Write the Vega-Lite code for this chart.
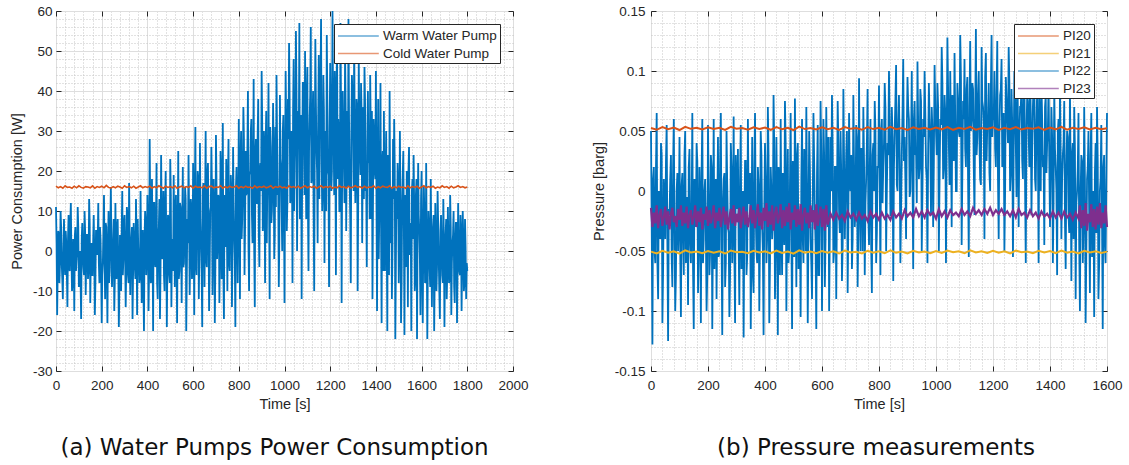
{
"$schema":"https://vega.github.io/schema/vega-lite/v6.json",
"background":"white",
"padding":{"left":8,"top":3,"right":0,"bottom":0},
"autosize":{"type":"pad"},
"spacing":138,
"bounds":"flush",
"config":{
 "view":{"stroke":"#262626","strokeWidth":1},
 "font":"Liberation Sans",
 "axis":{"labelFont":"Liberation Sans","labelFontSize":13.5,"labelColor":"#262626","titleFont":"Liberation Sans","titleFontSize":14.5,"titleColor":"#262626","titleFontWeight":"normal","tickColor":"#262626","domain":false,"labelFlush":false,"labelOverlap":false},
 "legend":{"labelFont":"Liberation Sans","labelFontSize":13.5,"labelColor":"#262626"}
},
"datasets":{
"warm":[{"t":0,"v":11},{"t":2.5,"v":2},{"t":5,"v":-16},{"t":7.5,"v":-5},{"t":10,"v":5},{"t":12.5,"v":4},{"t":15,"v":-8},{"t":17.5,"v":-3},{"t":20,"v":10},{"t":22.5,"v":6},{"t":25,"v":-3},{"t":27.5,"v":-7},{"t":30,"v":-12},{"t":32.5,"v":1},{"t":35,"v":8},{"t":37.5,"v":-2},{"t":40,"v":-6},{"t":42.5,"v":5},{"t":45,"v":2},{"t":47.5,"v":-6},
{"t":50,"v":-14},{"t":52.5,"v":3},{"t":55,"v":9},{"t":57.5,"v":-4},{"t":60,"v":-5},{"t":62.5,"v":7},{"t":65,"v":12},{"t":67.5,"v":-1},{"t":70,"v":-10},{"t":72.5,"v":-8},{"t":75,"v":3},{"t":77.5,"v":2},{"t":80,"v":-15},{"t":82.5,"v":4},{"t":85,"v":6},{"t":87.5,"v":-5},{"t":90,"v":-2},{"t":92.5,"v":0},{"t":95,"v":11},{"t":97.5,"v":6},
{"t":100,"v":-9},{"t":102.5,"v":-3},{"t":105,"v":0},{"t":107.5,"v":-7},{"t":110,"v":-17},{"t":112.5,"v":3},{"t":115,"v":7},{"t":117.5,"v":1},{"t":120,"v":-4},{"t":122.5,"v":-6},{"t":125,"v":10},{"t":127.5,"v":5},{"t":130,"v":-11},{"t":132.5,"v":-2},{"t":135,"v":4},{"t":137.5,"v":4},{"t":140,"v":-7},{"t":142.5,"v":-4},{"t":145,"v":13},{"t":147.5,"v":7},
{"t":150,"v":-13},{"t":152.5,"v":-1},{"t":155,"v":2},{"t":157.5,"v":-6},{"t":160,"v":-6},{"t":162.5,"v":2},{"t":165,"v":9},{"t":167.5,"v":0},{"t":170,"v":-16},{"t":172.5,"v":-8},{"t":175,"v":5},{"t":177.5,"v":5},{"t":180,"v":-1},{"t":182.5,"v":3},{"t":185,"v":12},{"t":187.5,"v":-3},{"t":190,"v":-8},{"t":192.5,"v":6},{"t":195,"v":3},{"t":197.5,"v":-5},
{"t":200,"v":-18},
{"t":202.5,"v":-6},{"t":205,"v":-3},{"t":207.5,"v":4},{"t":210,"v":14},{"t":212.5,"v":-2},{"t":215,"v":-12},{"t":217.5,"v":7},{"t":220,"v":6},{"t":222.5,"v":-5},{"t":225,"v":-18},{"t":227.5,"v":1},{"t":230,"v":10},{"t":232.5,"v":-8},{"t":235,"v":-5},{"t":237.5,"v":5},{"t":240,"v":16},{"t":242.5,"v":3},{"t":245,"v":-9},{"t":247.5,"v":-4},{"t":250,"v":2},
{"t":252.5,"v":8},{"t":255,"v":-15},{"t":257.5,"v":-7},{"t":260,"v":12},{"t":262.5,"v":0},{"t":265,"v":-7},{"t":267.5,"v":6},{"t":270,"v":8},{"t":272.5,"v":-3},{"t":275,"v":-19},{"t":277.5,"v":-9},{"t":280,"v":4},{"t":282.5,"v":2},{"t":285,"v":-10},{"t":287.5,"v":5},{"t":290,"v":15},{"t":292.5,"v":-6},{"t":295,"v":-2},{"t":297.5,"v":7},{"t":300,"v":9},
{"t":302.5,"v":-1},{"t":305,"v":-14},{"t":307.5,"v":-4},{"t":310,"v":11},{"t":312.5,"v":9},{"t":315,"v":-6},{"t":317.5,"v":-8},{"t":320,"v":17},{"t":322.5,"v":3},{"t":325,"v":-11},{"t":327.5,"v":0},{"t":330,"v":3},{"t":332.5,"v":6},{"t":335,"v":-17},{"t":337.5,"v":-5},{"t":340,"v":7},{"t":342.5,"v":2},{"t":345,"v":-4},{"t":347.5,"v":-7},{"t":350,"v":13},
{"t":352.5,"v":4},{"t":355,"v":-16},{"t":357.5,"v":8},{"t":360,"v":1},{"t":362.5,"v":-3},{"t":365,"v":-8},{"t":367.5,"v":-6},{"t":370,"v":15},{"t":372.5,"v":1},{"t":375,"v":-13},{"t":377.5,"v":5},{"t":380,"v":5},{"t":382.5,"v":-9},{"t":385,"v":-20},{"t":387.5,"v":3},{"t":390,"v":10},{"t":392.5,"v":7},{"t":395,"v":-6},{"t":397.5,"v":-2},{"t":400,"v":14},
{"t":402.5,"v":6},{"t":405,"v":-15},{"t":407.5,"v":-4},{"t":410,"v":28},{"t":412.5,"v":10},{"t":415,"v":-8},{"t":417.5,"v":-7},{"t":420,"v":18},{"t":422.5,"v":2},{"t":425,"v":-20},{"t":427.5,"v":12},{"t":430,"v":12},{"t":432.5,"v":-2},{"t":435,"v":-4},{"t":437.5,"v":7},{"t":440,"v":22},{"t":442.5,"v":-8},{"t":445,"v":-12},{"t":447.5,"v":4},{"t":450,"v":6},
{"t":452.5,"v":13},{"t":455,"v":-17},{"t":457.5,"v":-5},{"t":460,"v":24},{"t":462.5,"v":9},{"t":465,"v":-2},{"t":467.5,"v":0},{"t":470,"v":15},{"t":472.5,"v":-6},{"t":475,"v":-10},{"t":477.5,"v":11},{"t":480,"v":20},{"t":482.5,"v":3},{"t":485,"v":-19},{"t":487.5,"v":-3},{"t":490,"v":9},{"t":492.5,"v":8},{"t":495,"v":-6},{"t":497.5,"v":-8},{"t":500,"v":23},
{"t":502.5,"v":14},{"t":505,"v":-14},{"t":507.5,"v":1},{"t":510,"v":3},{"t":512.5,"v":-5},{"t":515,"v":19},{"t":517.5,"v":6},{"t":520,"v":-9},{"t":522.5,"v":10},{"t":525,"v":14},{"t":527.5,"v":-2},{"t":530,"v":-18},{"t":532.5,"v":4},{"t":535,"v":25},{"t":537.5,"v":-7},{"t":540,"v":-5},{"t":542.5,"v":12},{"t":545,"v":11},{"t":547.5,"v":0},{"t":550,"v":-13},
{"t":552.5,"v":8},{"t":555,"v":21},{"t":557.5,"v":-4},{"t":560,"v":-3},{"t":562.5,"v":5},{"t":565,"v":16},{"t":567.5,"v":13},{"t":570,"v":-20},{"t":572.5,"v":-6},{"t":575,"v":8},{"t":577.5,"v":2},{"t":580,"v":24},{"t":582.5,"v":9},{"t":585,"v":-11},{"t":587.5,"v":-1},{"t":590,"v":13},{"t":592.5,"v":11},{"t":595,"v":-7},{"t":597.5,"v":-5},{"t":600,"v":22},
{"t":602.5,"v":4},{"t":605,"v":-16},{"t":607.5,"v":14},{"t":610,"v":31},{"t":612.5,"v":-3},{"t":615,"v":-6},{"t":617.5,"v":10},{"t":620,"v":20},{"t":622.5,"v":18},{"t":625,"v":-12},{"t":627.5,"v":0},{"t":630,"v":27},{"t":632.5,"v":8},{"t":635,"v":2},{"t":637.5,"v":-6},{"t":640,"v":-19},{"t":642.5,"v":15},{"t":645,"v":17},{"t":647.5,"v":5},{"t":650,"v":-9},
{"t":652.5,"v":12},{"t":655,"v":30},{"t":657.5,"v":-2},{"t":660,"v":-4},{"t":662.5,"v":19},{"t":665,"v":22},{"t":667.5,"v":6},{"t":670,"v":-15},{"t":672.5,"v":-5},{"t":675,"v":10},{"t":677.5,"v":11},{"t":680,"v":26},{"t":682.5,"v":16},{"t":685,"v":-11},{"t":687.5,"v":2},{"t":690,"v":18},{"t":692.5,"v":9},{"t":695,"v":-18},{"t":697.5,"v":-4},{"t":700,"v":29},
{"t":702.5,"v":17},{"t":705,"v":-2},{"t":707.5,"v":3},{"t":710,"v":14},{"t":712.5,"v":13},{"t":715,"v":-13},{"t":717.5,"v":-1},{"t":720,"v":25},{"t":722.5,"v":20},{"t":725,"v":-7},{"t":727.5,"v":7},{"t":730,"v":32},{"t":732.5,"v":-6},{"t":735,"v":-17},{"t":737.5,"v":14},{"t":740,"v":12},{"t":742.5,"v":1},{"t":745,"v":23},{"t":747.5,"v":10},{"t":750,"v":-10},
{"t":752.5,"v":18},{"t":755,"v":28},{"t":757.5,"v":-3},{"t":760,"v":-5},{"t":762.5,"v":8},{"t":765,"v":19},{"t":767.5,"v":15},{"t":770,"v":-14},{"t":772.5,"v":0},{"t":775,"v":26},{"t":777.5,"v":12},{"t":780,"v":4},{"t":782.5,"v":-2},{"t":785,"v":-19},{"t":787.5,"v":16},{"t":790,"v":21},{"t":792.5,"v":5},{"t":795,"v":-8},{"t":797.5,"v":11},{"t":800,"v":33},
{"t":802.5,"v":10},{"t":805,"v":-12},{"t":807.5,"v":22},{"t":810,"v":30},{"t":812.5,"v":3},{"t":815,"v":8},{"t":817.5,"v":18},{"t":820,"v":36},{"t":822.5,"v":28},{"t":825,"v":-6},{"t":827.5,"v":6},{"t":830,"v":25},{"t":832.5,"v":14},{"t":835,"v":15},{"t":837.5,"v":25},{"t":840,"v":40},{"t":842.5,"v":1},{"t":845,"v":-10},{"t":847.5,"v":19},{"t":850,"v":20},
{"t":852.5,"v":30},{"t":855,"v":33},{"t":857.5,"v":9},{"t":860,"v":2},{"t":862.5,"v":16},{"t":865,"v":43},{"t":867.5,"v":0},{"t":870,"v":-14},{"t":872.5,"v":24},{"t":875,"v":28},{"t":877.5,"v":12},{"t":880,"v":12},{"t":882.5,"v":29},{"t":885,"v":38},{"t":887.5,"v":5},{"t":890,"v":-4},{"t":892.5,"v":20},{"t":895,"v":22},{"t":897.5,"v":15},{"t":900,"v":45},
{"t":902.5,"v":32},{"t":905,"v":5},{"t":907.5,"v":8},{"t":910,"v":30},{"t":912.5,"v":17},{"t":915,"v":-8},{"t":917.5,"v":26},{"t":920,"v":35},{"t":922.5,"v":2},{"t":925,"v":18},{"t":927.5,"v":21},{"t":930,"v":42},{"t":932.5,"v":13},{"t":935,"v":-12},{"t":937.5,"v":31},{"t":940,"v":26},{"t":942.5,"v":7},{"t":945,"v":10},{"t":947.5,"v":18},{"t":950,"v":37},
{"t":952.5,"v":25},{"t":955,"v":-2},{"t":957.5,"v":4},{"t":960,"v":31},{"t":962.5,"v":11},{"t":965,"v":44},{"t":967.5,"v":28},{"t":970,"v":14},{"t":972.5,"v":16},{"t":975,"v":-9},{"t":977.5,"v":3},{"t":980,"v":39},{"t":982.5,"v":23},{"t":985,"v":21},{"t":987.5,"v":10},{"t":990,"v":0},{"t":992.5,"v":30},{"t":995,"v":34},{"t":997.5,"v":14},{"t":1000,"v":-13},
{"t":1002.5,"v":20},{"t":1005,"v":45},{"t":1007.5,"v":32},{"t":1010,"v":5},{"t":1012.5,"v":12},{"t":1015,"v":38},{"t":1017.5,"v":28},{"t":1020,"v":52},{"t":1022.5,"v":38},{"t":1025,"v":12},{"t":1027.5,"v":15},{"t":1030,"v":30},{"t":1032.5,"v":24},{"t":1035,"v":-8},{"t":1037.5,"v":35},{"t":1040,"v":48},{"t":1042.5,"v":10},{"t":1045,"v":22},{"t":1047.5,"v":30},{"t":1050,"v":55},
{"t":1052.5,"v":40},{"t":1055,"v":0},{"t":1057.5,"v":18},{"t":1060,"v":35},{"t":1062.5,"v":26},{"t":1065,"v":57},{"t":1067.5,"v":8},{"t":1070,"v":15},{"t":1072.5,"v":34},{"t":1075,"v":-12},{"t":1077.5,"v":22},{"t":1080,"v":42},{"t":1082.5,"v":42},{"t":1085,"v":28},{"t":1087.5,"v":14},{"t":1090,"v":50},{"t":1092.5,"v":29},{"t":1095,"v":8},{"t":1097.5,"v":36},{"t":1100,"v":46},
{"t":1102.5,"v":11},{"t":1105,"v":-5},{"t":1107.5,"v":25},{"t":1110,"v":33},{"t":1112.5,"v":39},{"t":1115,"v":56},{"t":1117.5,"v":17},{"t":1120,"v":18},{"t":1122.5,"v":31},{"t":1125,"v":40},{"t":1127.5,"v":9},{"t":1130,"v":-10},{"t":1132.5,"v":27},{"t":1135,"v":53},{"t":1137.5,"v":37},{"t":1140,"v":25},{"t":1142.5,"v":20},{"t":1145,"v":2},{"t":1147.5,"v":33},{"t":1150,"v":49},
{"t":1152.5,"v":13},{"t":1155,"v":36},{"t":1157.5,"v":41},{"t":1160,"v":58},{"t":1162.5,"v":23},{"t":1165,"v":10},{"t":1167.5,"v":16},{"t":1170,"v":44},{"t":1172.5,"v":35},{"t":1175,"v":-3},{"t":1177.5,"v":28},{"t":1180,"v":30},{"t":1182.5,"v":10},{"t":1185,"v":54},{"t":1187.5,"v":38},{"t":1190,"v":20},{"t":1192.5,"v":19},{"t":1195,"v":-9},{"t":1197.5,"v":30},{"t":1200,"v":47},
{"t":1202.5,"v":32},{"t":1205,"v":15},{"t":1207.5,"v":20},{"t":1210,"v":60},{"t":1212.5,"v":38},{"t":1215,"v":28},{"t":1217.5,"v":14},{"t":1220,"v":45},{"t":1222.5,"v":26},{"t":1225,"v":-6},{"t":1227.5,"v":40},{"t":1230,"v":52},{"t":1232.5,"v":18},{"t":1235,"v":33},{"t":1237.5,"v":30},{"t":1240,"v":10},{"t":1242.5,"v":10},{"t":1245,"v":57},{"t":1247.5,"v":35},{"t":1250,"v":-13},
{"t":1252.5,"v":22},{"t":1255,"v":40},{"t":1257.5,"v":28},{"t":1260,"v":22},{"t":1262.5,"v":12},{"t":1265,"v":50},{"t":1267.5,"v":37},{"t":1270,"v":5},{"t":1272.5,"v":24},{"t":1275,"v":35},{"t":1277.5,"v":16},{"t":1280,"v":58},{"t":1282.5,"v":33},{"t":1285,"v":18},{"t":1287.5,"v":9},{"t":1290,"v":-8},{"t":1292.5,"v":29},{"t":1295,"v":44},{"t":1297.5,"v":39},{"t":1300,"v":30},
{"t":1302.5,"v":15},{"t":1305,"v":55},{"t":1307.5,"v":26},{"t":1310,"v":12},{"t":1312.5,"v":21},{"t":1315,"v":38},{"t":1317.5,"v":36},{"t":1320,"v":-10},{"t":1322.5,"v":11},{"t":1325,"v":48},{"t":1327.5,"v":31},{"t":1330,"v":25},{"t":1332.5,"v":19},{"t":1335,"v":42},{"t":1337.5,"v":34},{"t":1340,"v":2},{"t":1342.5,"v":25},{"t":1345,"v":36},{"t":1347.5,"v":13},{"t":1350,"v":46},
{"t":1352.5,"v":38},{"t":1355,"v":15},{"t":1357.5,"v":17},{"t":1360,"v":-4},{"t":1362.5,"v":27},{"t":1365,"v":40},{"t":1367.5,"v":22},{"t":1370,"v":28},{"t":1372.5,"v":8},{"t":1375,"v":44},{"t":1377.5,"v":30},{"t":1380,"v":8},{"t":1382.5,"v":35},{"t":1385,"v":-12},{"t":1387.5,"v":14},{"t":1390,"v":33},{"t":1392.5,"v":28},{"t":1395,"v":20},{"t":1397.5,"v":18},{"t":1400,"v":45},
{"t":1402.5,"v":12},{"t":1405,"v":-15},{"t":1407.5,"v":20},{"t":1410,"v":38},{"t":1412.5,"v":-2},{"t":1415,"v":10},{"t":1417.5,"v":15},{"t":1420,"v":42},{"t":1422.5,"v":6},{"t":1425,"v":-18},{"t":1427.5,"v":22},{"t":1430,"v":25},{"t":1432.5,"v":-5},{"t":1435,"v":35},{"t":1437.5,"v":10},{"t":1440,"v":-5},{"t":1442.5,"v":18},{"t":1445,"v":30},{"t":1447.5,"v":2},{"t":1450,"v":-20},
{"t":1452.5,"v":24},{"t":1455,"v":18},{"t":1457.5,"v":-6},{"t":1460,"v":40},{"t":1462.5,"v":9},{"t":1465,"v":2},{"t":1467.5,"v":16},{"t":1470,"v":-12},{"t":1472.5,"v":0},{"t":1475,"v":28},{"t":1477.5,"v":13},{"t":1480,"v":33},{"t":1482.5,"v":21},{"t":1485,"v":-22},{"t":1487.5,"v":-3},{"t":1490,"v":15},{"t":1492.5,"v":8},{"t":1495,"v":22},{"t":1497.5,"v":17},{"t":1500,"v":-8},
{"t":1502.5,"v":4},{"t":1505,"v":30},{"t":1507.5,"v":11},{"t":1510,"v":-18},{"t":1512.5,"v":-8},{"t":1515,"v":12},{"t":1517.5,"v":19},{"t":1520,"v":25},{"t":1522.5,"v":5},{"t":1525,"v":-21},{"t":1527.5,"v":14},{"t":1530,"v":8},{"t":1532.5,"v":-4},{"t":1535,"v":20},{"t":1537.5,"v":10},{"t":1540,"v":-14},{"t":1542.5,"v":20},{"t":1545,"v":26},{"t":1547.5,"v":-1},{"t":1550,"v":3},
{"t":1552.5,"v":7},{"t":1555,"v":-20},{"t":1557.5,"v":15},{"t":1560,"v":18},{"t":1562.5,"v":3},{"t":1565,"v":24},{"t":1567.5,"v":12},{"t":1570,"v":-10},{"t":1572.5,"v":-7},{"t":1575,"v":14},{"t":1577.5,"v":18},{"t":1580,"v":-22},{"t":1582.5,"v":6},{"t":1585,"v":22},{"t":1587.5,"v":9},{"t":1590,"v":5},{"t":1592.5,"v":-2},{"t":1595,"v":-16},{"t":1597.5,"v":13},{"t":1600,"v":20},
{"t":1602.5,"v":-5},{"t":1605,"v":-18},{"t":1607.5,"v":3},{"t":1610,"v":16},{"t":1612.5,"v":8},{"t":1615,"v":-8},{"t":1617.5,"v":-7},{"t":1620,"v":22},{"t":1622.5,"v":1},{"t":1625,"v":-22},{"t":1627.5,"v":-3},{"t":1630,"v":10},{"t":1632.5,"v":6},{"t":1635,"v":-4},{"t":1637.5,"v":-9},{"t":1640,"v":18},{"t":1642.5,"v":4},{"t":1645,"v":-14},{"t":1647.5,"v":-1},{"t":1650,"v":6},
{"t":1652.5,"v":9},{"t":1655,"v":-20},{"t":1657.5,"v":-6},{"t":1660,"v":12},{"t":1662.5,"v":2},{"t":1665,"v":-10},{"t":1667.5,"v":-4},{"t":1670,"v":15},{"t":1672.5,"v":7},{"t":1675,"v":-2},{"t":1677.5,"v":-10},{"t":1680,"v":-17},{"t":1682.5,"v":5},{"t":1685,"v":9},{"t":1687.5,"v":0},{"t":1690,"v":-6},{"t":1692.5,"v":-8},{"t":1695,"v":13},{"t":1697.5,"v":3},{"t":1700,"v":-19},
{"t":1702.5,"v":-2},{"t":1705,"v":4},{"t":1707.5,"v":8},{"t":1710,"v":-12},{"t":1712.5,"v":-5},{"t":1715,"v":11},{"t":1717.5,"v":1},{"t":1720,"v":-8},{"t":1722.5,"v":-7},{"t":1725,"v":14},{"t":1727.5,"v":6},{"t":1730,"v":-16},{"t":1732.5,"v":-3},{"t":1735,"v":2},{"t":1737.5,"v":4},{"t":1740,"v":10},{"t":1742.5,"v":-9},{"t":1745,"v":-13},{"t":1747.5,"v":2},{"t":1750,"v":7},
{"t":1752.5,"v":7},{"t":1755,"v":-18},{"t":1757.5,"v":-4},{"t":1760,"v":12},{"t":1762.5,"v":0},{"t":1765,"v":-5},{"t":1767.5,"v":-6},{"t":1770,"v":9},{"t":1772.5,"v":5},{"t":1775,"v":-15},{"t":1777.5,"v":-2},{"t":1780,"v":10},{"t":1782.5,"v":3},{"t":1785,"v":-10},{"t":1787.5,"v":-8},{"t":1790,"v":8},{"t":1792.5,"v":1},{"t":1795,"v":-12},{"t":1797.5,"v":-3},{"t":1800,"v":-5}],
"cold":[{"t":0,"v":16.2},{"t":10,"v":15.8},{"t":20,"v":16.1},{"t":30,"v":15.7},{"t":40,"v":16.3},{"t":50,"v":15.9},{"t":60,"v":16.0},{"t":70,"v":15.7},{"t":80,"v":16.2},{"t":90,"v":15.8},
{"t":100,"v":16.3},{"t":110,"v":15.9},{"t":120,"v":15.7},{"t":130,"v":16.1},{"t":140,"v":16.0},{"t":150,"v":15.8},{"t":160,"v":16.3},{"t":170,"v":15.7},{"t":180,"v":16.1},{"t":190,"v":15.9},
{"t":200,"v":16.2},{"t":210,"v":15.8},{"t":220,"v":16.4},{"t":230,"v":15.9},{"t":240,"v":15.7},{"t":250,"v":16.1},{"t":260,"v":15.8},{"t":270,"v":16.2},{"t":280,"v":16.0},{"t":290,"v":15.7},
{"t":300,"v":16.3},{"t":310,"v":15.9},{"t":320,"v":16.1},{"t":330,"v":15.8},{"t":340,"v":16.2},{"t":350,"v":15.7},{"t":360,"v":16.0},{"t":370,"v":16.3},{"t":380,"v":15.8},{"t":390,"v":16.1},
{"t":400,"v":15.9},{"t":410,"v":16.2},{"t":420,"v":15.7},{"t":430,"v":16.1},{"t":440,"v":15.8},{"t":450,"v":16.3},{"t":460,"v":16.0},{"t":470,"v":15.7},{"t":480,"v":16.2},{"t":490,"v":15.9},
{"t":500,"v":16.1},{"t":510,"v":15.8},{"t":520,"v":16.3},{"t":530,"v":15.7},{"t":540,"v":16.0},{"t":550,"v":16.2},{"t":560,"v":15.8},{"t":570,"v":16.1},{"t":580,"v":15.9},{"t":590,"v":16.3},
{"t":600,"v":15.7},{"t":610,"v":16.2},{"t":620,"v":15.9},{"t":630,"v":16.0},{"t":640,"v":15.8},{"t":650,"v":16.3},{"t":660,"v":15.7},{"t":670,"v":16.1},{"t":680,"v":16.2},{"t":690,"v":15.8},
{"t":700,"v":16.0},{"t":710,"v":15.9},{"t":720,"v":16.3},{"t":730,"v":15.7},{"t":740,"v":16.1},{"t":750,"v":15.8},{"t":760,"v":16.2},{"t":770,"v":15.9},{"t":780,"v":16.0},{"t":790,"v":16.3},
{"t":800,"v":15.7},{"t":810,"v":16.1},{"t":820,"v":15.8},{"t":830,"v":16.2},{"t":840,"v":15.9},{"t":850,"v":16.0},{"t":860,"v":15.7},{"t":870,"v":16.3},{"t":880,"v":15.8},{"t":890,"v":16.1},
{"t":900,"v":15.9},{"t":910,"v":16.2},{"t":920,"v":15.8},{"t":930,"v":16.0},{"t":940,"v":16.3},{"t":950,"v":15.7},{"t":960,"v":16.1},{"t":970,"v":15.9},{"t":980,"v":16.2},{"t":990,"v":15.8},
{"t":1000,"v":16.0},{"t":1010,"v":15.7},{"t":1020,"v":16.3},{"t":1030,"v":15.9},{"t":1040,"v":16.1},{"t":1050,"v":15.8},{"t":1060,"v":16.2},{"t":1070,"v":15.7},{"t":1080,"v":16.0},{"t":1090,"v":16.3},
{"t":1100,"v":15.8},{"t":1110,"v":16.1},{"t":1120,"v":15.9},{"t":1130,"v":16.2},{"t":1140,"v":15.7},{"t":1150,"v":16.0},{"t":1160,"v":16.3},{"t":1170,"v":15.8},{"t":1180,"v":16.1},{"t":1190,"v":15.9},
{"t":1200,"v":16.2},{"t":1210,"v":15.7},{"t":1220,"v":16.0},{"t":1230,"v":15.8},{"t":1240,"v":16.3},{"t":1250,"v":15.9},{"t":1260,"v":16.1},{"t":1270,"v":15.7},{"t":1280,"v":16.2},{"t":1290,"v":15.8},
{"t":1300,"v":16.0},{"t":1310,"v":16.3},{"t":1320,"v":15.9},{"t":1330,"v":16.1},{"t":1340,"v":15.7},{"t":1350,"v":16.2},{"t":1360,"v":15.8},{"t":1370,"v":16.0},{"t":1380,"v":15.9},{"t":1390,"v":16.3},
{"t":1400,"v":15.7},{"t":1410,"v":16.1},{"t":1420,"v":15.8},{"t":1430,"v":16.2},{"t":1440,"v":16.0},{"t":1450,"v":15.9},{"t":1460,"v":16.3},{"t":1470,"v":15.7},{"t":1480,"v":16.1},{"t":1490,"v":15.8},
{"t":1500,"v":16.2},{"t":1510,"v":15.9},{"t":1520,"v":16.0},{"t":1530,"v":15.7},{"t":1540,"v":16.3},{"t":1550,"v":15.8},{"t":1560,"v":16.1},{"t":1570,"v":15.9},{"t":1580,"v":16.2},{"t":1590,"v":15.7},
{"t":1600,"v":16.0},{"t":1610,"v":16.3},{"t":1620,"v":15.8},{"t":1630,"v":16.1},{"t":1640,"v":15.9},{"t":1650,"v":16.2},{"t":1660,"v":15.7},{"t":1670,"v":16.0},{"t":1680,"v":15.8},{"t":1690,"v":16.3},
{"t":1700,"v":15.9},{"t":1710,"v":16.1},{"t":1720,"v":15.7},{"t":1730,"v":16.2},{"t":1740,"v":15.8},{"t":1750,"v":16.0},{"t":1760,"v":16.3},{"t":1770,"v":15.9},{"t":1780,"v":16.1},{"t":1790,"v":15.8},
{"t":1800,"v":16.0}],
"pi22":[{"t":0,"v":0.05},{"t":2.5,"v":-0.03},{"t":5,"v":-0.128},{"t":7.5,"v":0.01},{"t":10,"v":0.02},{"t":12.5,"v":-0.05},{"t":15,"v":-0.06},{"t":17.5,"v":0.02},{"t":20,"v":0.065},{"t":22.5,"v":-0.06},{"t":25,"v":-0.09},{"t":27.5,"v":0.0},{"t":30,"v":-0.01},{"t":32.5,"v":-0.04},{"t":35,"v":0.04},{"t":37.5,"v":0.03},{"t":40,"v":-0.11},{"t":42.5,"v":-0.065},{"t":45,"v":0.01},{"t":47.5,"v":-0.01},
{"t":50,"v":-0.04},{"t":52.5,"v":0.025},{"t":55,"v":0.055},{"t":57.5,"v":-0.045},{"t":60,"v":-0.125},{"t":62.5,"v":-0.015},{"t":65,"v":-0.02},{"t":67.5,"v":0.01},{"t":70,"v":0.03},{"t":72.5,"v":-0.055},{"t":75,"v":-0.08},{"t":77.5,"v":0.02},{"t":80,"v":0.06},{"t":82.5,"v":-0.035},{"t":85,"v":-0.1},{"t":87.5,"v":-0.07},{"t":90,"v":0.0},{"t":92.5,"v":0.015},{"t":95,"v":-0.05},{"t":97.5,"v":-0.025},
{"t":100,"v":0.045},{"t":102.5,"v":-0.05},{"t":105,"v":-0.105},{"t":107.5,"v":0.005},{"t":110,"v":0.015},{"t":112.5,"v":-0.04},{"t":115,"v":-0.07},{"t":117.5,"v":0.03},{"t":120,"v":0.05},{"t":122.5,"v":-0.06},{"t":125,"v":-0.03},{"t":127.5,"v":-0.005},{"t":130,"v":-0.095},{"t":132.5,"v":0.02},{"t":135,"v":0.035},{"t":137.5,"v":-0.045},{"t":140,"v":-0.06},{"t":142.5,"v":-0.02},{"t":145,"v":0.065},{"t":147.5,"v":-0.065},
{"t":150,"v":-0.115},{"t":152.5,"v":0.01},{"t":155,"v":-0.01},{"t":157.5,"v":-0.03},{"t":160,"v":0.04},{"t":162.5,"v":0.025},{"t":165,"v":-0.085},{"t":167.5,"v":-0.05},{"t":170,"v":0.02},{"t":172.5,"v":-0.01},{"t":175,"v":-0.11},{"t":177.5,"v":0.015},{"t":180,"v":0.06},{"t":182.5,"v":-0.06},{"t":185,"v":-0.04},{"t":187.5,"v":0.0},{"t":190,"v":0.01},{"t":192.5,"v":-0.035},{"t":195,"v":-0.1},{"t":197.5,"v":-0.07},
{"t":200,"v":0.055},
{"t":202.5,"v":0.0},{"t":205,"v":-0.07},{"t":207.5,"v":-0.05},{"t":210,"v":0.03},{"t":212.5,"v":0.02},{"t":215,"v":-0.115},{"t":217.5,"v":-0.03},{"t":220,"v":0.06},{"t":222.5,"v":-0.065},{"t":225,"v":-0.02},{"t":227.5,"v":0.01},{"t":230,"v":-0.09},{"t":232.5,"v":-0.02},{"t":235,"v":0.045},{"t":237.5,"v":-0.055},{"t":240,"v":-0.05},{"t":242.5,"v":0.025},{"t":245,"v":0.065},{"t":247.5,"v":-0.04},{"t":250,"v":-0.12},
{"t":252.5,"v":-0.01},{"t":255,"v":0.01},{"t":257.5,"v":0.015},{"t":260,"v":-0.08},{"t":262.5,"v":-0.06},{"t":265,"v":0.05},{"t":267.5,"v":0.005},{"t":270,"v":-0.03},{"t":272.5,"v":-0.035},{"t":275,"v":-0.105},{"t":277.5,"v":-0.07},{"t":280,"v":0.04},{"t":282.5,"v":0.02},{"t":285,"v":-0.06},{"t":287.5,"v":-0.025},{"t":290,"v":0.062},{"t":292.5,"v":-0.05},{"t":295,"v":-0.11},{"t":297.5,"v":0.03},{"t":300,"v":0.0},
{"t":302.5,"v":-0.015},{"t":305,"v":0.035},{"t":307.5,"v":-0.045},{"t":310,"v":-0.095},{"t":312.5,"v":0.01},{"t":315,"v":0.055},{"t":317.5,"v":-0.065},{"t":320,"v":-0.04},{"t":322.5,"v":0.0},{"t":325,"v":-0.122},{"t":327.5,"v":-0.03},{"t":330,"v":0.025},{"t":332.5,"v":0.025},{"t":335,"v":-0.07},{"t":337.5,"v":-0.055},{"t":340,"v":0.06},{"t":342.5,"v":-0.01},{"t":345,"v":-0.01},{"t":347.5,"v":0.015},{"t":350,"v":-0.115},
{"t":352.5,"v":-0.04},{"t":355,"v":0.045},{"t":357.5,"v":-0.07},{"t":360,"v":-0.085},{"t":362.5,"v":0.02},{"t":365,"v":0.065},{"t":367.5,"v":-0.02},{"t":370,"v":-0.05},{"t":372.5,"v":-0.06},{"t":375,"v":0.02},{"t":377.5,"v":0.005},{"t":380,"v":-0.1},{"t":382.5,"v":-0.035},{"t":385,"v":0.05},{"t":387.5,"v":0.03},{"t":390,"v":-0.03},{"t":392.5,"v":-0.05},{"t":395,"v":-0.12},{"t":397.5,"v":-0.015},{"t":400,"v":0.04},
{"t":402.5,"v":0.01},{"t":405,"v":-0.06},{"t":407.5,"v":-0.04},{"t":410,"v":0.07},{"t":412.5,"v":0.03},{"t":415,"v":-0.11},{"t":417.5,"v":-0.06},{"t":420,"v":0.02},{"t":422.5,"v":0.0},{"t":425,"v":-0.04},{"t":427.5,"v":-0.025},{"t":430,"v":0.08},{"t":432.5,"v":0.035},{"t":435,"v":-0.09},{"t":437.5,"v":-0.05},{"t":440,"v":0.045},{"t":442.5,"v":-0.01},{"t":445,"v":-0.12},{"t":447.5,"v":0.02},{"t":450,"v":0.01},
{"t":452.5,"v":-0.07},{"t":455,"v":0.06},{"t":457.5,"v":-0.03},{"t":460,"v":-0.07},{"t":462.5,"v":0.015},{"t":465,"v":-0.02},{"t":467.5,"v":-0.045},{"t":470,"v":0.075},{"t":472.5,"v":0.04},{"t":475,"v":-0.1},{"t":477.5,"v":-0.015},{"t":480,"v":0.035},{"t":482.5,"v":-0.06},{"t":485,"v":-0.05},{"t":487.5,"v":0.005},{"t":490,"v":0.065},{"t":492.5,"v":-0.035},{"t":495,"v":-0.115},{"t":497.5,"v":0.025},{"t":500,"v":0.0},
{"t":502.5,"v":-0.055},{"t":505,"v":0.077},{"t":507.5,"v":-0.005},{"t":510,"v":-0.08},{"t":512.5,"v":0.03},{"t":515,"v":0.04},{"t":517.5,"v":-0.065},{"t":520,"v":-0.03},{"t":522.5,"v":-0.02},{"t":525,"v":-0.105},{"t":527.5,"v":0.01},{"t":530,"v":0.06},{"t":532.5,"v":-0.04},{"t":535,"v":-0.06},{"t":537.5,"v":0.035},{"t":540,"v":0.025},{"t":542.5,"v":-0.05},{"t":545,"v":0.07},{"t":547.5,"v":0.0},{"t":550,"v":-0.11},
{"t":552.5,"v":-0.03},{"t":555,"v":0.05},{"t":557.5,"v":0.02},{"t":560,"v":-0.04},{"t":562.5,"v":-0.06},{"t":565,"v":-0.09},{"t":567.5,"v":-0.01},{"t":570,"v":0.065},{"t":572.5,"v":0.025},{"t":575,"v":-0.02},{"t":577.5,"v":-0.045},{"t":580,"v":-0.115},{"t":582.5,"v":0.015},{"t":585,"v":0.055},{"t":587.5,"v":-0.07},{"t":590,"v":-0.07},{"t":592.5,"v":-0.02},{"t":595,"v":0.075},{"t":597.5,"v":0.03},{"t":600,"v":-0.1},
{"t":602.5,"v":-0.02},{"t":605,"v":0.06},{"t":607.5,"v":0.03},{"t":610,"v":-0.08},{"t":612.5,"v":-0.04},{"t":615,"v":0.07},{"t":617.5,"v":0.01},{"t":620,"v":-0.03},{"t":622.5,"v":0.045},{"t":625,"v":-0.1},{"t":627.5,"v":-0.03},{"t":630,"v":0.045},{"t":632.5,"v":0.0},{"t":635,"v":0.08},{"t":637.5,"v":0.035},{"t":640,"v":-0.06},{"t":642.5,"v":-0.05},{"t":645,"v":0.02},{"t":647.5,"v":0.02},{"t":650,"v":-0.09},
{"t":652.5,"v":-0.01},{"t":655,"v":0.075},{"t":657.5,"v":0.04},{"t":660,"v":-0.02},{"t":662.5,"v":-0.035},{"t":665,"v":0.05},{"t":667.5,"v":0.015},{"t":670,"v":-0.075},{"t":672.5,"v":-0.045},{"t":675,"v":0.085},{"t":677.5,"v":0.025},{"t":680,"v":-0.04},{"t":682.5,"v":-0.005},{"t":685,"v":0.03},{"t":687.5,"v":0.05},{"t":690,"v":-0.085},{"t":692.5,"v":-0.025},{"t":695,"v":0.065},{"t":697.5,"v":0.01},{"t":700,"v":0.0},
{"t":702.5,"v":0.03},{"t":705,"v":-0.065},{"t":707.5,"v":-0.04},{"t":710,"v":0.08},{"t":712.5,"v":0.02},{"t":715,"v":-0.03},{"t":717.5,"v":-0.015},{"t":720,"v":0.055},{"t":722.5,"v":0.045},{"t":725,"v":-0.08},{"t":727.5,"v":-0.03},{"t":730,"v":0.094},{"t":732.5,"v":0.005},{"t":735,"v":-0.05},{"t":737.5,"v":0.035},{"t":740,"v":0.035},{"t":742.5,"v":-0.05},{"t":745,"v":0.07},{"t":747.5,"v":0.025},{"t":750,"v":-0.07},
{"t":752.5,"v":-0.01},{"t":755,"v":0.01},{"t":757.5,"v":0.04},{"t":760,"v":0.085},{"t":762.5,"v":-0.02},{"t":765,"v":-0.045},{"t":767.5,"v":0.015},{"t":770,"v":0.06},{"t":772.5,"v":-0.045},{"t":775,"v":-0.085},{"t":777.5,"v":0.03},{"t":780,"v":0.04},{"t":782.5,"v":0.0},{"t":785,"v":0.075},{"t":787.5,"v":0.05},{"t":790,"v":-0.06},{"t":792.5,"v":-0.035},{"t":795,"v":0.02},{"t":797.5,"v":0.02},{"t":800,"v":0.088},
{"t":802.5,"v":0.01},{"t":805,"v":-0.07},{"t":807.5,"v":0.05},{"t":810,"v":0.06},{"t":812.5,"v":-0.01},{"t":815,"v":0.02},{"t":817.5,"v":0.04},{"t":820,"v":0.09},{"t":822.5,"v":0.07},{"t":825,"v":-0.05},{"t":827.5,"v":0.0},{"t":830,"v":0.04},{"t":832.5,"v":0.03},{"t":835,"v":0.1},{"t":837.5,"v":0.06},{"t":840,"v":-0.02},{"t":842.5,"v":-0.02},{"t":845,"v":0.07},{"t":847.5,"v":0.045},{"t":850,"v":-0.075},
{"t":852.5,"v":0.02},{"t":855,"v":0.05},{"t":857.5,"v":0.075},{"t":860,"v":0.105},{"t":862.5,"v":0.005},{"t":865,"v":0.0},{"t":867.5,"v":0.055},{"t":870,"v":0.08},{"t":872.5,"v":0.035},{"t":875,"v":-0.06},{"t":877.5,"v":-0.015},{"t":880,"v":0.03},{"t":882.5,"v":0.065},{"t":885,"v":0.11},{"t":887.5,"v":0.025},{"t":890,"v":0.045},{"t":892.5,"v":0.01},{"t":895,"v":-0.04},{"t":897.5,"v":0.05},{"t":900,"v":0.095},
{"t":902.5,"v":0.07},{"t":905,"v":0.06},{"t":907.5,"v":-0.005},{"t":910,"v":0.0},{"t":912.5,"v":0.04},{"t":915,"v":0.1},{"t":917.5,"v":0.015},{"t":920,"v":-0.065},{"t":922.5,"v":0.06},{"t":925,"v":0.075},{"t":927.5,"v":0.03},{"t":930,"v":0.035},{"t":932.5,"v":-0.01},{"t":935,"v":0.108},{"t":937.5,"v":0.055},{"t":940,"v":0.01},{"t":942.5,"v":0.02},{"t":945,"v":0.085},{"t":947.5,"v":0.075},{"t":950,"v":-0.05},
{"t":952.5,"v":0.0},{"t":955,"v":0.06},{"t":957.5,"v":0.045},{"t":960,"v":0.1},{"t":962.5,"v":0.065},{"t":965,"v":0.02},{"t":967.5,"v":0.01},{"t":970,"v":-0.06},{"t":972.5,"v":0.035},{"t":975,"v":0.09},{"t":977.5,"v":0.06},{"t":980,"v":0.04},{"t":982.5,"v":-0.02},{"t":985,"v":0.07},{"t":987.5,"v":0.05},{"t":990,"v":-0.03},{"t":992.5,"v":0.025},{"t":995,"v":0.105},{"t":997.5,"v":0.07},{"t":1000,"v":0.05},
{"t":1002.5,"v":0.03},{"t":1005,"v":0.09},{"t":1007.5,"v":0.07},{"t":1010,"v":-0.05},{"t":1012.5,"v":0.01},{"t":1015,"v":0.06},{"t":1017.5,"v":0.055},{"t":1020,"v":0.12},{"t":1022.5,"v":0.09},{"t":1025,"v":0.01},{"t":1027.5,"v":0.02},{"t":1030,"v":0.08},{"t":1032.5,"v":0.065},{"t":1035,"v":-0.06},{"t":1037.5,"v":0.04},{"t":1040,"v":0.128},{"t":1042.5,"v":0.085},{"t":1045,"v":0.04},{"t":1047.5,"v":0.005},{"t":1050,"v":0.1},
{"t":1052.5,"v":0.05},{"t":1055,"v":-0.03},{"t":1057.5,"v":0.08},{"t":1060,"v":0.07},{"t":1062.5,"v":0.025},{"t":1065,"v":0.115},{"t":1067.5,"v":0.06},{"t":1070,"v":0.0},{"t":1072.5,"v":0.0},{"t":1075,"v":0.09},{"t":1077.5,"v":0.075},{"t":1080,"v":0.05},{"t":1082.5,"v":0.045},{"t":1085,"v":0.13},{"t":1087.5,"v":0.095},{"t":1090,"v":-0.045},{"t":1092.5,"v":0.015},{"t":1095,"v":0.075},{"t":1097.5,"v":0.06},{"t":1100,"v":0.11},
{"t":1102.5,"v":0.035},{"t":1105,"v":0.02},{"t":1107.5,"v":0.085},{"t":1110,"v":0.095},{"t":1112.5,"v":0.01},{"t":1115,"v":-0.055},{"t":1117.5,"v":0.07},{"t":1120,"v":0.125},{"t":1122.5,"v":0.05},{"t":1125,"v":0.06},{"t":1127.5,"v":0.09},{"t":1130,"v":0.085},{"t":1132.5,"v":0.02},{"t":1135,"v":-0.02},{"t":1137.5,"v":0.065},{"t":1140,"v":0.135},{"t":1142.5,"v":0.03},{"t":1145,"v":0.045},{"t":1147.5,"v":0.08},{"t":1150,"v":0.1},
{"t":1152.5,"v":0.04},{"t":1155,"v":0.01},{"t":1157.5,"v":0.005},{"t":1160,"v":0.12},{"t":1162.5,"v":0.075},{"t":1165,"v":0.07},{"t":1167.5,"v":0.055},{"t":1170,"v":-0.04},{"t":1172.5,"v":0.095},{"t":1175,"v":0.115},{"t":1177.5,"v":0.025},{"t":1180,"v":0.055},{"t":1182.5,"v":0.06},{"t":1185,"v":0.09},{"t":1187.5,"v":0.015},{"t":1190,"v":0.0},{"t":1192.5,"v":0.085},{"t":1195,"v":0.13},{"t":1197.5,"v":0.045},{"t":1200,"v":0.06},
{"t":1202.5,"v":0.06},{"t":1205,"v":0.1},{"t":1207.5,"v":0.035},{"t":1210,"v":0.02},{"t":1212.5,"v":0.08},{"t":1215,"v":0.125},{"t":1217.5,"v":0.01},{"t":1220,"v":-0.04},{"t":1222.5,"v":0.05},{"t":1225,"v":0.08},{"t":1227.5,"v":0.085},{"t":1230,"v":0.11},{"t":1232.5,"v":0.02},{"t":1235,"v":0.03},{"t":1237.5,"v":0.065},{"t":1240,"v":-0.05},{"t":1242.5,"v":0.0},{"t":1245,"v":0.095},{"t":1247.5,"v":0.075},{"t":1250,"v":0.06},
{"t":1252.5,"v":0.04},{"t":1255,"v":0.12},{"t":1257.5,"v":0.09},{"t":1260,"v":0.0},{"t":1262.5,"v":0.015},{"t":1265,"v":0.085},{"t":1267.5,"v":0.055},{"t":1270,"v":-0.055},{"t":1272.5,"v":0.03},{"t":1275,"v":0.1},{"t":1277.5,"v":0.08},{"t":1280,"v":0.04},{"t":1282.5,"v":-0.005},{"t":1285,"v":0.115},{"t":1287.5,"v":0.06},{"t":1290,"v":-0.03},{"t":1292.5,"v":0.045},{"t":1295,"v":0.07},{"t":1297.5,"v":0.07},{"t":1300,"v":0.09},
{"t":1302.5,"v":0.025},{"t":1305,"v":0.01},{"t":1307.5,"v":0.085},{"t":1310,"v":0.105},{"t":1312.5,"v":0.005},{"t":1315,"v":-0.06},{"t":1317.5,"v":0.05},{"t":1320,"v":0.08},{"t":1322.5,"v":0.075},{"t":1325,"v":0.05},{"t":1327.5,"v":0.02},{"t":1330,"v":0.1},{"t":1332.5,"v":0.065},{"t":1335,"v":-0.02},{"t":1337.5,"v":0.035},{"t":1340,"v":0.07},{"t":1342.5,"v":0.09},{"t":1345,"v":0.095},{"t":1347.5,"v":0.01},{"t":1350,"v":0.0},
{"t":1352.5,"v":0.055},{"t":1355,"v":0.085},{"t":1357.5,"v":0.04},{"t":1360,"v":-0.06},{"t":1362.5,"v":0.08},{"t":1365,"v":0.06},{"t":1367.5,"v":0.0},{"t":1370,"v":0.09},{"t":1372.5,"v":0.06},{"t":1375,"v":0.02},{"t":1377.5,"v":0.03},{"t":1380,"v":-0.045},{"t":1382.5,"v":0.07},{"t":1385,"v":0.08},{"t":1387.5,"v":0.015},{"t":1390,"v":0.04},{"t":1392.5,"v":0.05},{"t":1395,"v":0.09},{"t":1397.5,"v":0.025},{"t":1400,"v":-0.03},
{"t":1402.5,"v":0.02},{"t":1405,"v":0.07},{"t":1407.5,"v":0.045},{"t":1410,"v":-0.06},{"t":1412.5,"v":-0.01},{"t":1415,"v":0.085},{"t":1417.5,"v":0.035},{"t":1420,"v":0.02},{"t":1422.5,"v":0.0},{"t":1425,"v":-0.07},{"t":1427.5,"v":0.05},{"t":1430,"v":0.06},{"t":1432.5,"v":-0.02},{"t":1435,"v":0.09},{"t":1437.5,"v":0.03},{"t":1440,"v":-0.04},{"t":1442.5,"v":0.01},{"t":1445,"v":0.03},{"t":1447.5,"v":0.04},{"t":1450,"v":0.075},
{"t":1452.5,"v":-0.025},{"t":1455,"v":-0.065},{"t":1457.5,"v":0.02},{"t":1460,"v":0.05},{"t":1462.5,"v":0.045},{"t":1465,"v":-0.02},{"t":1467.5,"v":-0.035},{"t":1470,"v":0.085},{"t":1472.5,"v":0.015},{"t":1475,"v":-0.075},{"t":1477.5,"v":0.03},{"t":1480,"v":0.04},{"t":1482.5,"v":-0.04},{"t":1485,"v":0.07},{"t":1487.5,"v":0.035},{"t":1490,"v":-0.09},{"t":1492.5,"v":-0.01},{"t":1495,"v":0.0},{"t":1497.5,"v":0.02},{"t":1500,"v":0.065},
{"t":1502.5,"v":-0.045},{"t":1505,"v":-0.1},{"t":1507.5,"v":0.0},{"t":1510,"v":0.03},{"t":1512.5,"v":0.025},{"t":1515,"v":-0.06},{"t":1517.5,"v":-0.03},{"t":1520,"v":0.07},{"t":1522.5,"v":0.01},{"t":1525,"v":-0.11},{"t":1527.5,"v":-0.05},{"t":1530,"v":0.01},{"t":1532.5,"v":0.02},{"t":1535,"v":0.05},{"t":1537.5,"v":-0.02},{"t":1540,"v":-0.085},{"t":1542.5,"v":0.03},{"t":1545,"v":0.065},{"t":1547.5,"v":-0.055},{"t":1550,"v":-0.03},
{"t":1552.5,"v":0.0},{"t":1555,"v":-0.105},{"t":1557.5,"v":0.015},{"t":1560,"v":0.04},{"t":1562.5,"v":-0.035},{"t":1565,"v":0.07},{"t":1567.5,"v":0.025},{"t":1570,"v":-0.09},{"t":1572.5,"v":-0.06},{"t":1575,"v":0.0},{"t":1577.5,"v":0.01},{"t":1580,"v":0.055},{"t":1582.5,"v":-0.02},{"t":1585,"v":-0.115},{"t":1587.5,"v":0.02},{"t":1590,"v":0.03},{"t":1592.5,"v":-0.045},{"t":1595,"v":-0.06},{"t":1597.5,"v":0.005},{"t":1600,"v":0.065}],
"pi20":[{"t":0,"v":0.0525},{"t":20,"v":0.0510},{"t":40,"v":0.0532},{"t":60,"v":0.0515},{"t":80,"v":0.0528},{"t":100,"v":0.0508},{"t":120,"v":0.0535},{"t":140,"v":0.0518},{"t":160,"v":0.0526},{"t":180,"v":0.0512},
{"t":200,"v":0.0530},{"t":220,"v":0.0516},{"t":240,"v":0.0527},{"t":260,"v":0.0509},{"t":280,"v":0.0534},{"t":300,"v":0.0519},{"t":320,"v":0.0524},{"t":340,"v":0.0511},{"t":360,"v":0.0531},{"t":380,"v":0.0517},
{"t":400,"v":0.0528},{"t":420,"v":0.0510},{"t":440,"v":0.0533},{"t":460,"v":0.0514},{"t":480,"v":0.0526},{"t":500,"v":0.0508},{"t":520,"v":0.0536},{"t":540,"v":0.0516},{"t":560,"v":0.0525},{"t":580,"v":0.0512},
{"t":600,"v":0.0530},{"t":620,"v":0.0515},{"t":640,"v":0.0527},{"t":660,"v":0.0509},{"t":680,"v":0.0533},{"t":700,"v":0.0518},{"t":720,"v":0.0524},{"t":740,"v":0.0510},{"t":760,"v":0.0532},{"t":780,"v":0.0516},
{"t":800,"v":0.0527},{"t":820,"v":0.0511},{"t":840,"v":0.0534},{"t":860,"v":0.0515},{"t":880,"v":0.0525},{"t":900,"v":0.0508},{"t":920,"v":0.0531},{"t":940,"v":0.0517},{"t":960,"v":0.0526},{"t":980,"v":0.0512},
{"t":1000,"v":0.0529},{"t":1020,"v":0.0514},{"t":1040,"v":0.0533},{"t":1060,"v":0.0510},{"t":1080,"v":0.0526},{"t":1100,"v":0.0516},{"t":1120,"v":0.0535},{"t":1140,"v":0.0511},{"t":1160,"v":0.0524},{"t":1180,"v":0.0517},
{"t":1200,"v":0.0530},{"t":1220,"v":0.0509},{"t":1240,"v":0.0527},{"t":1260,"v":0.0515},{"t":1280,"v":0.0533},{"t":1300,"v":0.0512},{"t":1320,"v":0.0525},{"t":1340,"v":0.0518},{"t":1360,"v":0.0531},{"t":1380,"v":0.0510},
{"t":1400,"v":0.0528},{"t":1420,"v":0.0514},{"t":1440,"v":0.0534},{"t":1460,"v":0.0511},{"t":1480,"v":0.0526},{"t":1500,"v":0.0517},{"t":1520,"v":0.0530},{"t":1540,"v":0.0512},{"t":1560,"v":0.0527},{"t":1580,"v":0.0515},
{"t":1600,"v":0.0522}],
"pi21":[{"t":0,"v":-0.0505},{"t":20,"v":-0.0520},{"t":40,"v":-0.0498},{"t":60,"v":-0.0515},{"t":80,"v":-0.0502},{"t":100,"v":-0.0522},{"t":120,"v":-0.0495},{"t":140,"v":-0.0512},{"t":160,"v":-0.0504},{"t":180,"v":-0.0518},
{"t":200,"v":-0.0500},{"t":220,"v":-0.0514},{"t":240,"v":-0.0503},{"t":260,"v":-0.0521},{"t":280,"v":-0.0496},{"t":300,"v":-0.0511},{"t":320,"v":-0.0506},{"t":340,"v":-0.0519},{"t":360,"v":-0.0499},{"t":380,"v":-0.0513},
{"t":400,"v":-0.0502},{"t":420,"v":-0.0520},{"t":440,"v":-0.0497},{"t":460,"v":-0.0516},{"t":480,"v":-0.0504},{"t":500,"v":-0.0522},{"t":520,"v":-0.0494},{"t":540,"v":-0.0514},{"t":560,"v":-0.0505},{"t":580,"v":-0.0518},
{"t":600,"v":-0.0500},{"t":620,"v":-0.0515},{"t":640,"v":-0.0503},{"t":660,"v":-0.0521},{"t":680,"v":-0.0497},{"t":700,"v":-0.0512},{"t":720,"v":-0.0506},{"t":740,"v":-0.0520},{"t":760,"v":-0.0498},{"t":780,"v":-0.0514},
{"t":800,"v":-0.0503},{"t":820,"v":-0.0519},{"t":840,"v":-0.0495},{"t":860,"v":-0.0515},{"t":880,"v":-0.0505},{"t":900,"v":-0.0521},{"t":920,"v":-0.0499},{"t":940,"v":-0.0513},{"t":960,"v":-0.0504},{"t":980,"v":-0.0518},
{"t":1000,"v":-0.0501},{"t":1020,"v":-0.0516},{"t":1040,"v":-0.0496},{"t":1060,"v":-0.0511},{"t":1080,"v":-0.0502},{"t":1100,"v":-0.0519},{"t":1120,"v":-0.0494},{"t":1140,"v":-0.0512},{"t":1160,"v":-0.0503},{"t":1180,"v":-0.0517},
{"t":1200,"v":-0.0498},{"t":1220,"v":-0.0514},{"t":1240,"v":-0.0502},{"t":1260,"v":-0.0520},{"t":1280,"v":-0.0496},{"t":1300,"v":-0.0511},{"t":1320,"v":-0.0505},{"t":1340,"v":-0.0519},{"t":1360,"v":-0.0499},{"t":1380,"v":-0.0513},
{"t":1400,"v":-0.0501},{"t":1420,"v":-0.0518},{"t":1440,"v":-0.0497},{"t":1460,"v":-0.0515},{"t":1480,"v":-0.0504},{"t":1500,"v":-0.0520},{"t":1520,"v":-0.0498},{"t":1540,"v":-0.0512},{"t":1560,"v":-0.0503},{"t":1580,"v":-0.0516},
{"t":1600,"v":-0.0505}],
"pi23":[{"t":0,"v":-0.014},{"t":5,"v":-0.030},{"t":10,"v":-0.018},{"t":15,"v":-0.027},{"t":20,"v":-0.012},{"t":25,"v":-0.031},{"t":30,"v":-0.020},{"t":35,"v":-0.015},{"t":40,"v":-0.029},{"t":45,"v":-0.022},
{"t":50,"v":-0.013},{"t":55,"v":-0.028},{"t":60,"v":-0.017},{"t":65,"v":-0.032},{"t":70,"v":-0.019},{"t":75,"v":-0.014},{"t":80,"v":-0.026},{"t":85,"v":-0.021},{"t":90,"v":-0.030},{"t":95,"v":-0.015},
{"t":100,"v":-0.024},{"t":105,"v":-0.012},{"t":110,"v":-0.029},{"t":115,"v":-0.018},{"t":120,"v":-0.027},{"t":125,"v":-0.013},{"t":130,"v":-0.031},{"t":135,"v":-0.020},{"t":140,"v":-0.016},{"t":145,"v":-0.028},
{"t":150,"v":-0.022},{"t":155,"v":-0.012},{"t":160,"v":-0.030},{"t":165,"v":-0.017},{"t":170,"v":-0.026},{"t":175,"v":-0.014},{"t":180,"v":-0.032},{"t":185,"v":-0.019},{"t":190,"v":-0.024},{"t":195,"v":-0.013},
{"t":200,"v":-0.029},{"t":205,"v":-0.016},{"t":210,"v":-0.027},{"t":215,"v":-0.021},{"t":220,"v":-0.012},{"t":225,"v":-0.031},{"t":230,"v":-0.018},{"t":235,"v":-0.025},{"t":240,"v":-0.014},{"t":245,"v":-0.030},
{"t":250,"v":-0.020},{"t":255,"v":-0.013},{"t":260,"v":-0.028},{"t":265,"v":-0.017},{"t":270,"v":-0.032},{"t":275,"v":-0.022},{"t":280,"v":-0.015},{"t":285,"v":-0.027},{"t":290,"v":-0.012},{"t":295,"v":-0.029},
{"t":300,"v":-0.019},{"t":305,"v":-0.026},{"t":310,"v":-0.014},{"t":315,"v":-0.031},{"t":320,"v":-0.021},{"t":325,"v":-0.013},{"t":330,"v":-0.028},{"t":335,"v":-0.017},{"t":340,"v":-0.030},{"t":345,"v":-0.023},
{"t":350,"v":-0.012},{"t":355,"v":-0.027},{"t":360,"v":-0.016},{"t":365,"v":-0.031},{"t":370,"v":-0.020},{"t":375,"v":-0.011},{"t":380,"v":-0.029},{"t":385,"v":-0.018},{"t":390,"v":-0.032},{"t":395,"v":-0.014},
{"t":400,"v":-0.025},{"t":405,"v":-0.010},{"t":410,"v":-0.030},{"t":415,"v":-0.017},{"t":420,"v":-0.028},{"t":425,"v":-0.012},{"t":430,"v":-0.033},{"t":435,"v":-0.019},{"t":440,"v":-0.013},{"t":445,"v":-0.027},
{"t":450,"v":-0.021},{"t":455,"v":-0.011},{"t":460,"v":-0.031},{"t":465,"v":-0.016},{"t":470,"v":-0.029},{"t":475,"v":-0.013},{"t":480,"v":-0.026},{"t":485,"v":-0.010},{"t":490,"v":-0.032},{"t":495,"v":-0.018},
{"t":500,"v":-0.024},{"t":505,"v":-0.012},{"t":510,"v":-0.030},{"t":515,"v":-0.015},{"t":520,"v":-0.028},{"t":525,"v":-0.011},{"t":530,"v":-0.033},{"t":535,"v":-0.020},{"t":540,"v":-0.014},{"t":545,"v":-0.027},
{"t":550,"v":-0.018},{"t":555,"v":-0.031},{"t":560,"v":-0.012},{"t":565,"v":-0.026},{"t":570,"v":-0.016},{"t":575,"v":-0.032},{"t":580,"v":-0.011},{"t":585,"v":-0.029},{"t":590,"v":-0.021},{"t":595,"v":-0.013},
{"t":600,"v":-0.030},{"t":605,"v":-0.015},{"t":610,"v":-0.033},{"t":615,"v":-0.012},{"t":620,"v":-0.028},
{"t":630,"v":-0.019},{"t":640,"v":-0.024},{"t":650,"v":-0.018},{"t":660,"v":-0.023},{"t":670,"v":-0.020},{"t":680,"v":-0.025},{"t":690,"v":-0.017},{"t":700,"v":-0.022},{"t":710,"v":-0.019},{"t":720,"v":-0.024},
{"t":730,"v":-0.018},{"t":740,"v":-0.023},{"t":750,"v":-0.020},{"t":760,"v":-0.025},{"t":770,"v":-0.017},{"t":780,"v":-0.022},{"t":790,"v":-0.019},{"t":800,"v":-0.024},{"t":810,"v":-0.018},{"t":820,"v":-0.023},
{"t":830,"v":-0.020},{"t":840,"v":-0.024},{"t":850,"v":-0.017},{"t":860,"v":-0.022},{"t":870,"v":-0.019},{"t":880,"v":-0.023},{"t":890,"v":-0.016},{"t":900,"v":-0.021},{"t":910,"v":-0.018},{"t":920,"v":-0.022},
{"t":930,"v":-0.015},{"t":940,"v":-0.021},{"t":950,"v":-0.017},{"t":960,"v":-0.022},{"t":970,"v":-0.016},{"t":980,"v":-0.020},{"t":990,"v":-0.018},{"t":1000,"v":-0.023},{"t":1010,"v":-0.015},{"t":1020,"v":-0.021},
{"t":1030,"v":-0.017},{"t":1040,"v":-0.022},{"t":1050,"v":-0.016},{"t":1060,"v":-0.020},{"t":1070,"v":-0.018},{"t":1080,"v":-0.021},{"t":1090,"v":-0.015},{"t":1100,"v":-0.020},{"t":1110,"v":-0.017},{"t":1120,"v":-0.021},
{"t":1130,"v":-0.014},{"t":1140,"v":-0.019},{"t":1150,"v":-0.016},{"t":1160,"v":-0.020},{"t":1170,"v":-0.015},{"t":1180,"v":-0.019},{"t":1190,"v":-0.014},{"t":1200,"v":-0.020},{"t":1210,"v":-0.016},{"t":1220,"v":-0.019},
{"t":1230,"v":-0.015},{"t":1240,"v":-0.020},{"t":1250,"v":-0.017},{"t":1260,"v":-0.021},{"t":1270,"v":-0.016},{"t":1280,"v":-0.022},{"t":1290,"v":-0.015},{"t":1300,"v":-0.020},{"t":1310,"v":-0.018},{"t":1320,"v":-0.022},
{"t":1330,"v":-0.016},{"t":1340,"v":-0.021},{"t":1350,"v":-0.018},{"t":1360,"v":-0.023},{"t":1370,"v":-0.017},{"t":1380,"v":-0.021},{"t":1390,"v":-0.019},{"t":1400,"v":-0.023},{"t":1410,"v":-0.017},{"t":1420,"v":-0.022},
{"t":1430,"v":-0.018},{"t":1440,"v":-0.023},{"t":1450,"v":-0.017},{"t":1460,"v":-0.022},{"t":1470,"v":-0.019},{"t":1480,"v":-0.024},{"t":1490,"v":-0.018},{"t":1500,"v":-0.023},
{"t":1505,"v":-0.012},{"t":1510,"v":-0.031},{"t":1515,"v":-0.016},{"t":1520,"v":-0.029},{"t":1525,"v":-0.010},{"t":1530,"v":-0.033},{"t":1535,"v":-0.019},{"t":1540,"v":-0.026},{"t":1545,"v":-0.011},{"t":1550,"v":-0.030},
{"t":1555,"v":-0.015},{"t":1560,"v":-0.032},{"t":1565,"v":-0.013},{"t":1570,"v":-0.028},{"t":1575,"v":-0.010},{"t":1580,"v":-0.031},{"t":1585,"v":-0.018},{"t":1590,"v":-0.027},{"t":1595,"v":-0.012},{"t":1600,"v":-0.030}]
},
"resolve":{"scale":{"x":"independent","y":"independent","color":"independent"},"legend":{"color":"independent"}},
"hconcat":[
{
"width":457,"height":360,
"title":{"text":"(a) Water Pumps Power Consumption","orient":"bottom","anchor":"middle","font":"DejaVu Sans","fontSize":23,"fontWeight":"normal","color":"#111111","offset":26,"dx":-10},
"resolve":{"axis":{"x":"independent","y":"independent"}},
"layer":[
{"data":{"name":"warm"},"mark":{"type":"line","strokeWidth":1.8},
 "encoding":{
 "x":{"field":"t","type":"quantitative","scale":{"domain":[0,2000],"nice":false,"zero":false},
  "axis":{"orient":"bottom","grid":true,"gridDash":[1,2],"gridColor":"#c4c4c4","values":[0,40,80,120,160,200,240,280,320,360,400,440,480,520,560,600,640,680,720,760,800,840,880,920,960,1000,1040,1080,1120,1160,1200,1240,1280,1320,1360,1400,1440,1480,1520,1560,1600,1640,1680,1720,1760,1800,1840,1880,1920,1960,2000],"labels":false,"ticks":false,"domain":false,"title":null}},
 "y":{"field":"v","type":"quantitative","scale":{"domain":[-30,60],"nice":false,"zero":false},
  "axis":{"orient":"left","grid":true,"gridDash":[1,2],"gridColor":"#c4c4c4","values":[-30,-28,-26,-24,-22,-20,-18,-16,-14,-12,-10,-8,-6,-4,-2,0,2,4,6,8,10,12,14,16,18,20,22,24,26,28,30,32,34,36,38,40,42,44,46,48,50,52,54,56,58,60],"labels":false,"ticks":false,"domain":false,"title":null}},
 "color":{"datum":"Warm Water Pump","type":"nominal","scale":{"domain":["Warm Water Pump","Cold Water Pump"],"range":["#0072BD","#D95319"]},
  "legend":{"title":null,"orient":"top-right","offset":13,"symbolType":"M-1,0H4.1","symbolSize":256,"symbolStrokeWidth":1.5,"symbolFillColor":"transparent","symbolOpacity":0.6,"labelFontSize":13.5,"labelOffset":28,"fillColor":"white","strokeColor":"#262626","padding":3,"rowPadding":1.5}}
 }},
{"data":{"name":"cold"},"mark":{"type":"line","strokeWidth":1.6},
 "encoding":{
 "x":{"field":"t","type":"quantitative",
  "axis":{"orient":"bottom","grid":true,"gridColor":"#dedede","values":[0,200,400,600,800,1000,1200,1400,1600,1800,2000],"labelExpr":"'' + datum.value","tickSize":-5,"labelPadding":12,"title":"Time [s]","titlePadding":6}},
 "y":{"field":"v","type":"quantitative",
  "axis":{"orient":"left","grid":true,"gridColor":"#dedede","values":[-30,-20,-10,0,10,20,30,40,50,60],"labelExpr":"'' + datum.value","tickSize":-5,"labelPadding":9,"title":"Power Consumption [W]","titlePadding":8}},
 "color":{"datum":"Cold Water Pump","type":"nominal"}
 }},
{"data":{"name":"cold"},"mark":{"type":"line","opacity":0},
 "encoding":{
 "x":{"field":"t","type":"quantitative",
  "axis":{"orient":"top","grid":false,"values":[0,200,400,600,800,1000,1200,1400,1600,1800,2000],"labels":false,"tickSize":-5,"domain":false,"title":null}},
 "y":{"field":"v","type":"quantitative",
  "axis":{"orient":"right","grid":false,"values":[-30,-20,-10,0,10,20,30,40,50,60],"labels":false,"tickSize":-5,"domain":false,"title":null}}
 }}
]
},
{
"width":456,"height":360,
"title":{"text":"(b) Pressure measurements","orient":"bottom","anchor":"middle","font":"DejaVu Sans","fontSize":23,"fontWeight":"normal","color":"#111111","offset":26,"dx":-3},
"resolve":{"axis":{"x":"independent","y":"independent"}},
"layer":[
{"data":{"name":"pi22"},"mark":{"type":"line","strokeWidth":1.8},
 "encoding":{
 "x":{"field":"t","type":"quantitative","scale":{"domain":[0,1600],"nice":false,"zero":false},
  "axis":{"orient":"bottom","grid":true,"gridDash":[1,2],"gridColor":"#c4c4c4","values":[0,40,80,120,160,200,240,280,320,360,400,440,480,520,560,600,640,680,720,760,800,840,880,920,960,1000,1040,1080,1120,1160,1200,1240,1280,1320,1360,1400,1440,1480,1520,1560,1600],"labels":false,"ticks":false,"domain":false,"title":null}},
 "y":{"field":"v","type":"quantitative","scale":{"domain":[-0.15,0.15],"nice":false,"zero":false},
  "axis":{"orient":"left","grid":true,"gridDash":[1,2],"gridColor":"#c4c4c4","values":[-0.15,-0.14,-0.13,-0.12,-0.11,-0.1,-0.09,-0.08,-0.07,-0.06,-0.05,-0.04,-0.03,-0.02,-0.01,0,0.01,0.02,0.03,0.04,0.05,0.06,0.07,0.08,0.09,0.1,0.11,0.12,0.13,0.14,0.15],"labels":false,"ticks":false,"domain":false,"title":null}},
 "color":{"datum":"PI22","type":"nominal","scale":{"domain":["PI20","PI21","PI22","PI23"],"range":["#D95319","#EDB120","#0072BD","#7E2F8E"]},
  "legend":{"title":null,"orient":"top-right","offset":13,"symbolType":"M-1,0H4.1","symbolSize":256,"symbolStrokeWidth":1.5,"symbolFillColor":"transparent","symbolOpacity":0.6,"labelFontSize":13.5,"labelOffset":28,"fillColor":"white","strokeColor":"#262626","padding":3,"rowPadding":1.5}}
 }},
{"data":{"name":"pi20"},"mark":{"type":"line","strokeWidth":2},
 "encoding":{
 "x":{"field":"t","type":"quantitative",
  "axis":{"orient":"bottom","grid":true,"gridColor":"#dedede","values":[0,200,400,600,800,1000,1200,1400,1600],"labelExpr":"'' + datum.value","tickSize":-5,"labelPadding":12,"title":"Time [s]","titlePadding":6}},
 "y":{"field":"v","type":"quantitative",
  "axis":{"orient":"left","grid":true,"gridColor":"#dedede","values":[-0.15,-0.1,-0.05,0,0.05,0.1,0.15],"labelExpr":"'' + datum.value","tickSize":-5,"labelPadding":11,"title":"Pressure [barg]","titlePadding":8}},
 "color":{"datum":"PI20","type":"nominal"}
 }},
{"data":{"name":"pi21"},"mark":{"type":"line","strokeWidth":2},
 "encoding":{
 "x":{"field":"t","type":"quantitative",
  "axis":{"orient":"top","grid":false,"values":[0,200,400,600,800,1000,1200,1400,1600],"labels":false,"tickSize":-5,"domain":false,"title":null}},
 "y":{"field":"v","type":"quantitative",
  "axis":{"orient":"right","grid":false,"values":[-0.15,-0.1,-0.05,0,0.05,0.1,0.15],"labels":false,"tickSize":-5,"domain":false,"title":null}},
 "color":{"datum":"PI21","type":"nominal"}
 }},
{"data":{"name":"pi23"},"mark":{"type":"line","strokeWidth":2.2},
 "encoding":{
 "x":{"field":"t","type":"quantitative","axis":null},
 "y":{"field":"v","type":"quantitative","axis":null},
 "color":{"datum":"PI23","type":"nominal"}
 }}
]
}
]
}
